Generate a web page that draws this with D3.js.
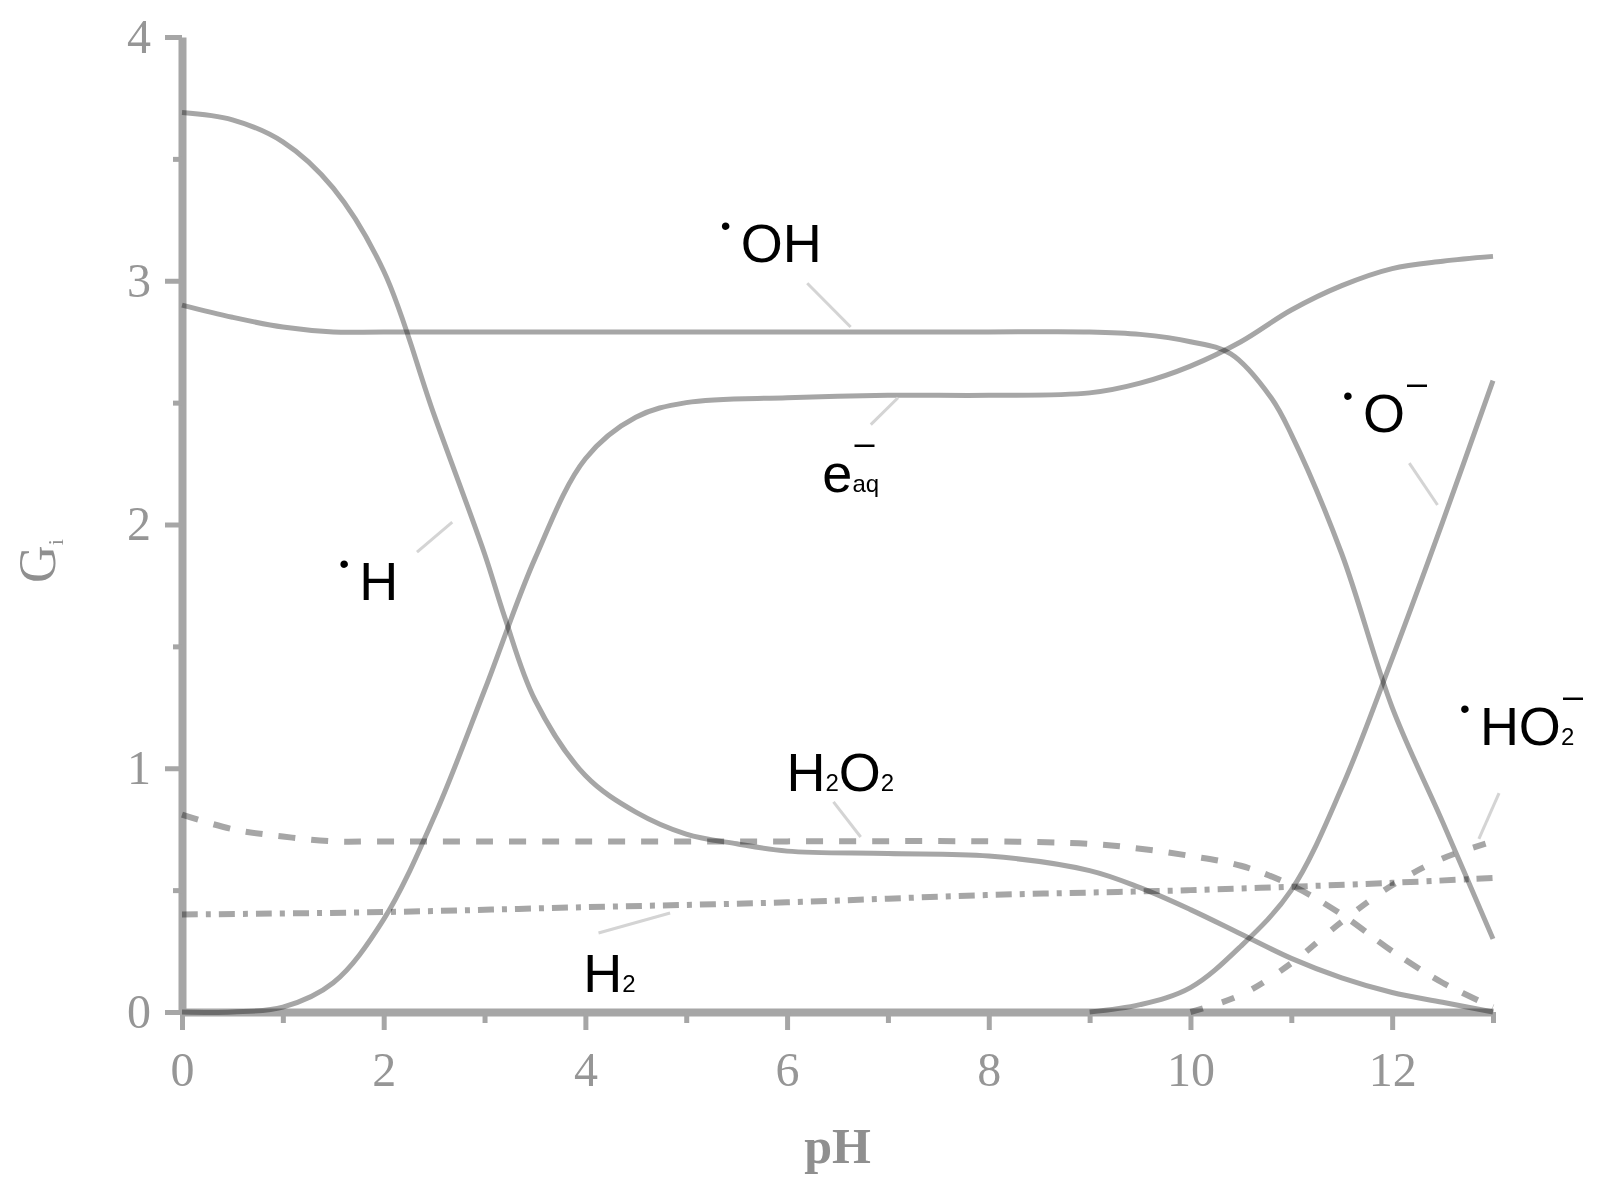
<!DOCTYPE html>
<html>
<head>
<meta charset="utf-8">
<title>G values versus pH</title>
<script src="https://d3js.org/d3.v7.min.js"></script>
<style>
  body { margin: 0; background: #fff; }
  .curve { fill: none; stroke: #a6a6a6; stroke-width: 5px; mix-blend-mode: multiply; }
  .axis path, .axis line { stroke: #a6a6a6; }
  .axis .domain { stroke-width: 8px; }
  .axis line { stroke-width: 5px; }
  .axis text { font-family: "Liberation Serif", "DejaVu Serif", serif; font-size: 48px; fill: #969696; }
  .lab { font-family: "Liberation Sans", Arial, sans-serif; fill: #000; }
  .leader { stroke: #d4d4d4; stroke-width: 3px; }
</style>
</head>
<body>
<div id="chart"></div>
<script>
// curve values (pH, G)
var phH   = [0,0.5,1,1.5,2,2.5,3,3.2,3.5,4,4.5,5,5.5,6,7,8,9,9.5,10,10.5,11,11.5,12,12.5,13];
var gH    = [3.69,3.66,3.57,3.38,3.04,2.45,1.88,1.62,1.28,0.97,0.82,0.73,0.69,0.66,0.65,0.64,0.58,0.51,0.42,0.32,0.22,0.14,0.08,0.04,0.0];

var phOH  = [0,0.5,1,1.5,2,4,6,8,9,9.5,10,10.4,10.8,11,11.5,12,12.5,13];
var gOH   = [2.9,2.85,2.81,2.79,2.79,2.79,2.79,2.79,2.79,2.78,2.75,2.7,2.52,2.37,1.88,1.25,0.78,0.3];

var phE   = [0,0.5,1,1.5,2,2.5,3,3.5,4,4.5,5,6,7,8,9,9.5,10,10.5,11,11.5,12,12.5,13];
var gE    = [0,0,0.02,0.12,0.38,0.8,1.32,1.86,2.27,2.44,2.5,2.52,2.53,2.53,2.54,2.58,2.65,2.75,2.88,2.98,3.05,3.08,3.1];

var phO   = [9,9.5,10,10.5,11,11.5,12,12.5,13];
var gO    = [0,0.03,0.1,0.27,0.5,0.92,1.45,2.01,2.59];

var phH2O2 = [0,0.5,1,1.5,2,4,6,8,9,9.5,10,10.5,11,11.5,12,12.5,13];
var gH2O2  = [0.81,0.75,0.72,0.7,0.7,0.7,0.7,0.7,0.69,0.67,0.64,0.6,0.52,0.4,0.25,0.12,0.02];

var phH2  = [0,2,4,6,8,10,12,13];
var gH2   = [0.4,0.41,0.43,0.45,0.48,0.5,0.53,0.55];

var phHO2 = [10,10.5,11,11.5,12,12.5,13];
var gHO2  = [0,0.07,0.2,0.37,0.52,0.63,0.7];

var xMajor = [0,2,4,6,8,10,12];
var xMinor = [1,3,5,7,9,11,13];
var yMajor = [0,1,2,3,4];
var yMinor = [0.5,1.5,2.5,3.5];

var width = 1603, height = 1198;

var svg = d3.select("#chart").append("svg")
    .attr("width", width)
    .attr("height", height);

var x = d3.scaleLinear().domain([0, 13]).range([182, 1493]);
var y = d3.scaleLinear().domain([0, 4]).range([1012, 37]);

// axes
svg.append("g").attr("class", "axis")
    .attr("transform", "translate(0," + y(0) + ")")
    .call(d3.axisBottom(x).tickValues(xMajor).tickSize(18).tickSizeOuter(0).tickPadding(22).tickFormat(d3.format("d")));
svg.append("g").attr("class", "axis")
    .attr("transform", "translate(0," + y(0) + ")")
    .call(d3.axisBottom(x).tickValues(xMinor).tickSize(11).tickFormat(""))
    .select(".domain").remove();

svg.append("g").attr("class", "axis")
    .attr("transform", "translate(" + x(0) + ",0)")
    .call(d3.axisLeft(y).tickValues(yMajor).tickSize(17).tickSizeOuter(0).tickPadding(14).tickFormat(d3.format("d")));
svg.append("g").attr("class", "axis")
    .attr("transform", "translate(" + x(0) + ",0)")
    .call(d3.axisLeft(y).tickValues(yMinor).tickSize(9).tickFormat(""))
    .select(".domain").remove();

// axis titles
svg.append("text")
    .attr("x", x(6.5)).attr("y", 1163)
    .attr("text-anchor", "middle")
    .style("font-family", "Liberation Serif, serif")
    .style("font-size", "50px").style("font-weight", "bold")
    .style("fill", "#8f8f8f")
    .text("pH");

var gt = svg.append("text")
    .attr("transform", "translate(55," + y(1.85) + ") rotate(-90)")
    .attr("text-anchor", "middle")
    .style("font-family", "Liberation Serif, serif")
    .style("font-size", "52px")
    .style("fill", "#8f8f8f");
gt.append("tspan").text("G");
gt.append("tspan").attr("dy", 8).style("font-size", "22px").text("i");

// curves
var line = d3.line()
    .x(function(d) { return x(d[0]); })
    .y(function(d) { return y(d[1]); })
    .curve(d3.curveCatmullRom.alpha(0.5));

var series = [
  { ph: phH,   g: gH,   dash: null },
  { ph: phOH,  g: gOH,  dash: null },
  { ph: phE,   g: gE,   dash: null },
  { ph: phO,   g: gO,   dash: null },
  { ph: phH2O2, g: gH2O2, dash: "17,16" },
  { ph: phH2,  g: gH2,  dash: "16,8,5,8" },
  { ph: phHO2, g: gHO2, dash: "13,20" }
];

series.forEach(function(s) {
  svg.append("path")
      .datum(d3.zip(s.ph, s.g))
      .attr("class", "curve")
      .style("stroke-dasharray", s.dash)
      .style("stroke-width", s.dash ? "6px" : "5px")
      .attr("d", line);
});

// labels: anchor of main text in data units, leader line in data units
var labels = [
  { main: "OH", sub1: null, mid: null, sub2: null, radical: true,  minus: false, at: [5.54, 3.077], lead: [[6.20, 2.99], [6.63, 2.81]] },
  { main: "e",  sub1: "aq", mid: null, sub2: null, radical: false, minus: true,  at: [6.35, 2.133], lead: [[7.10, 2.52], [6.83, 2.41]] },
  { main: "H",  sub1: null, mid: null, sub2: null, radical: true,  minus: false, at: [1.757, 1.69], lead: [[2.33, 1.887], [2.68, 2.01]] },
  { main: "H",  sub1: "2", mid: "O", sub2: "2",   radical: false, minus: false, at: [5.994, 0.907], lead: [[6.46, 0.862], [6.73, 0.718]] },
  { main: "H",  sub1: "2", mid: null, sub2: null, radical: false, minus: false, at: [3.98, 0.082], lead: [[4.13, 0.324], [4.84, 0.406]] },
  { main: "O",  sub1: null, mid: null, sub2: null, radical: true,  minus: true,  at: [11.71, 2.379], lead: [[12.17, 2.252], [12.45, 2.08]] },
  { main: "HO", sub1: "2", mid: null, sub2: null, radical: true,  minus: true,  at: [12.87, 1.095], lead: [[13.06, 0.898], [12.86, 0.71]] }
];

labels.forEach(function(l) {
  svg.append("line").attr("class", "leader")
      .attr("x1", x(l.lead[0][0])).attr("y1", y(l.lead[0][1]))
      .attr("x2", x(l.lead[1][0])).attr("y2", y(l.lead[1][1]));

  var lx = x(l.at[0]), ly = y(l.at[1]);
  if (l.radical) {
    svg.append("text").attr("class", "lab")
        .attr("x", lx - 20).attr("y", ly - 27)
        .style("font-size", "28px")
        .text("\u2022");
  }
  var t = svg.append("text").attr("class", "lab")
      .attr("x", lx).attr("y", ly)
      .style("font-size", "54px");
  var head = t.append("tspan").text(l.main);
  if (l.sub1) t.append("tspan").style("font-size", "24px").text(l.sub1);
  if (l.mid) t.append("tspan").style("font-size", "54px").text(l.mid);
  if (l.sub2) t.append("tspan").style("font-size", "24px").text(l.sub2);
  if (l.minus) {
    var mx = lx + head.node().getComputedTextLength() + 2;
    svg.append("text").attr("class", "lab")
        .attr("x", mx).attr("y", ly - 37)
        .style("font-size", "36px")
        .text("\u2013");
  }
});
</script>
</body>
</html>
